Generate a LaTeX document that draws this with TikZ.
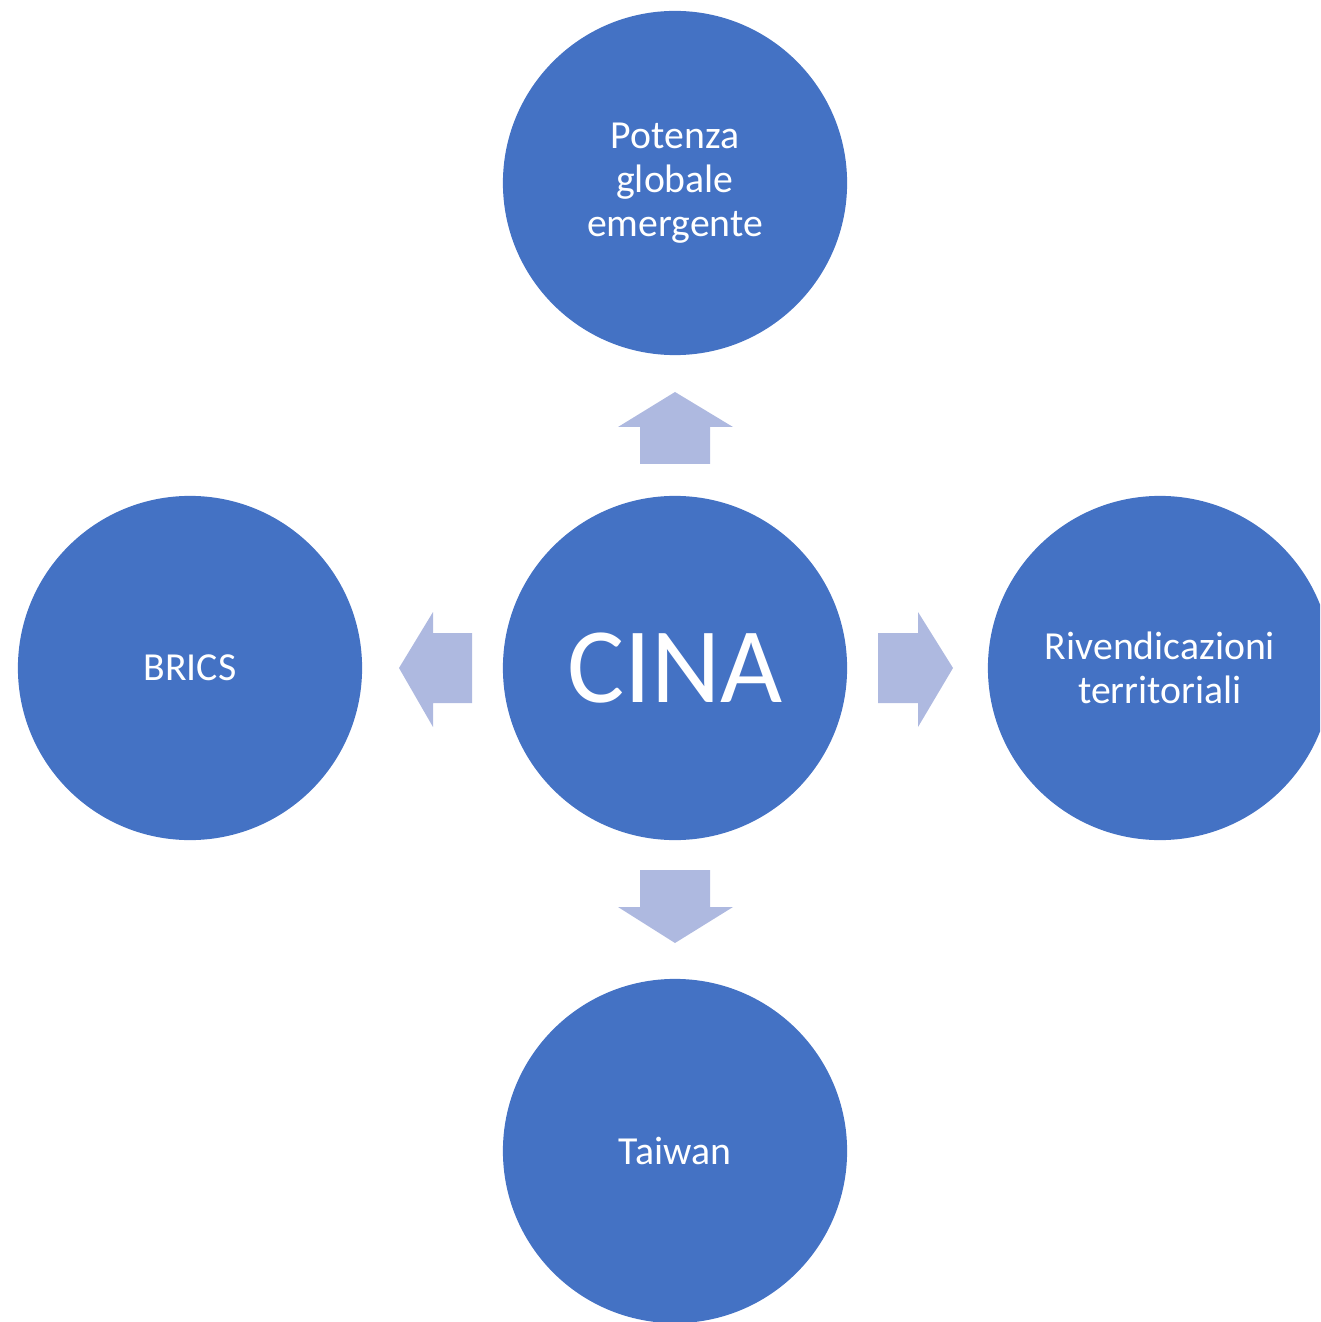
\documentclass[tikz,border=0pt]{standalone}
\usepackage{fontspec}
\setmainfont{Carlito}
\definecolor{circblue}{HTML}{4472C4}
\definecolor{arrowlav}{HTML}{AEB9E0}
\begin{document}
\begin{tikzpicture}[x=0.01cm,y=-0.01cm,
  bubble/.style={circle,fill=circblue,minimum size=3.44cm,inner sep=0pt,text=white,align=center,font=\fontsize{11.3pt}{12.6pt}\selectfont},
  blockarrow/.style={fill=arrowlav,draw=none}]
\useasboundingbox (0,0) rectangle (1320,1322);
\clip (0,0) rectangle (1320,1322);
\node[bubble] (cina) at (675,668) {\fontsize{30.5pt}{32pt}\selectfont CINA};
\node[bubble] (top) at (675,183) {Potenza\\globale\\emergente};
\node[bubble] (left) at (190,668) {BRICS};
\node[bubble] (right) at (1160,668) {Rivendicazioni\\territoriali};
\node[bubble] (bottom) at (675,1151) {Taiwan};
% block arrows, placed relative to the central node
\begin{scope}[shift={(cina.center)}]
\fill[blockarrow] (-35,-204) -- (-35,-241) -- (-57,-241) -- (0,-276) -- (58,-241) -- (35,-241) -- (35,-204) -- cycle;
\fill[blockarrow] (-203,-35) -- (-242,-35) -- (-242,-56) -- (-276,0) -- (-242,59) -- (-242,35) -- (-203,35) -- cycle;
\fill[blockarrow] (203,-35) -- (243,-35) -- (243,-56) -- (278,0) -- (243,59) -- (243,35) -- (203,35) -- cycle;
\fill[blockarrow] (-35,202) -- (-35,239) -- (-57,239) -- (0,275) -- (58,239) -- (35,239) -- (35,202) -- cycle;
\end{scope}
\end{tikzpicture}
\end{document}
